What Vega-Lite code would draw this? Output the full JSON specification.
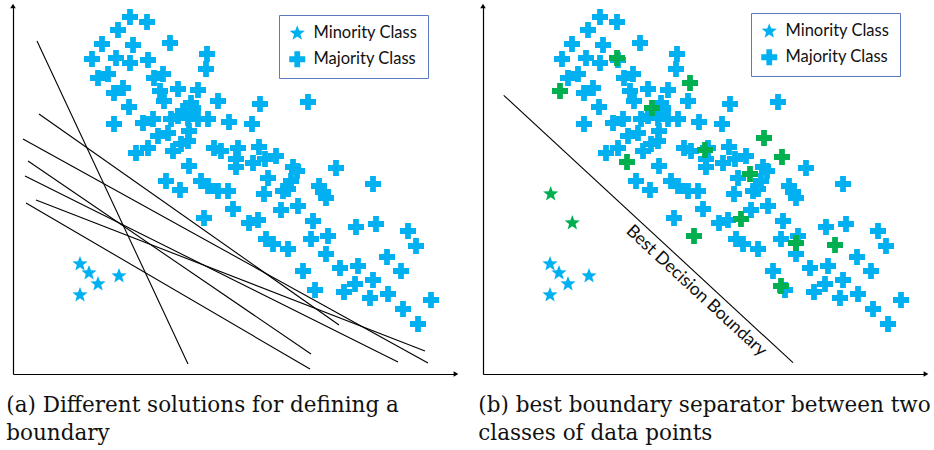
{
  "$schema": "https://vega.github.io/schema/vega-lite/v6.json",
  "background": "white",
  "padding": {"left": 6, "top": 3, "right": 0, "bottom": 0},
  "bounds": "flush",
  "spacing": 27,
  "config": {
    "view": {"stroke": null},
    "axis": {"domainColor": "black", "domainWidth": 1.2, "ticks": false, "labels": false, "grid": false, "title": null, "minExtent": 0, "maxExtent": 0},
    "title": {"font": "DejaVu Serif", "fontSize": 21.5, "fontWeight": "normal", "color": "#111", "orient": "bottom", "anchor": "start", "lineHeight": 28, "offset": 18}
  },
  "resolve": {"scale": {"shape": "independent", "color": "independent"}, "legend": {"shape": "independent"}},
  "datasets": {
    "pts": [
      {"x": 79, "y": 263, "class": "Minority Class"},
      {"x": 88, "y": 272, "class": "Minority Class"},
      {"x": 97, "y": 283, "class": "Minority Class"},
      {"x": 118, "y": 275, "class": "Minority Class"},
      {"x": 79, "y": 294, "class": "Minority Class"},
      {"x": 129, "y": 16, "class": "Majority Class"},
      {"x": 146, "y": 21, "class": "Majority Class"},
      {"x": 117, "y": 29, "class": "Majority Class"},
      {"x": 101, "y": 43, "class": "Majority Class"},
      {"x": 132, "y": 44, "class": "Majority Class"},
      {"x": 169, "y": 42, "class": "Majority Class"},
      {"x": 206, "y": 53, "class": "Majority Class"},
      {"x": 205, "y": 68, "class": "Majority Class"},
      {"x": 91, "y": 58, "class": "Majority Class"},
      {"x": 115, "y": 57, "class": "Majority Class"},
      {"x": 129, "y": 62, "class": "Majority Class"},
      {"x": 147, "y": 59, "class": "Majority Class"},
      {"x": 97, "y": 77, "class": "Majority Class"},
      {"x": 107, "y": 73, "class": "Majority Class"},
      {"x": 153, "y": 77, "class": "Majority Class"},
      {"x": 162, "y": 73, "class": "Majority Class"},
      {"x": 113, "y": 92, "class": "Majority Class"},
      {"x": 122, "y": 87, "class": "Majority Class"},
      {"x": 128, "y": 106, "class": "Majority Class"},
      {"x": 159, "y": 90, "class": "Majority Class"},
      {"x": 163, "y": 100, "class": "Majority Class"},
      {"x": 177, "y": 88, "class": "Majority Class"},
      {"x": 197, "y": 89, "class": "Majority Class"},
      {"x": 190, "y": 102, "class": "Majority Class"},
      {"x": 217, "y": 100, "class": "Majority Class"},
      {"x": 259, "y": 103, "class": "Majority Class"},
      {"x": 307, "y": 101, "class": "Majority Class"},
      {"x": 113, "y": 123, "class": "Majority Class"},
      {"x": 142, "y": 122, "class": "Majority Class"},
      {"x": 152, "y": 118, "class": "Majority Class"},
      {"x": 177, "y": 115, "class": "Majority Class"},
      {"x": 187, "y": 117, "class": "Majority Class"},
      {"x": 197, "y": 118, "class": "Majority Class"},
      {"x": 207, "y": 118, "class": "Majority Class"},
      {"x": 182, "y": 110, "class": "Majority Class"},
      {"x": 192, "y": 107, "class": "Majority Class"},
      {"x": 170, "y": 118, "class": "Majority Class"},
      {"x": 228, "y": 121, "class": "Majority Class"},
      {"x": 251, "y": 123, "class": "Majority Class"},
      {"x": 188, "y": 130, "class": "Majority Class"},
      {"x": 157, "y": 135, "class": "Majority Class"},
      {"x": 167, "y": 132, "class": "Majority Class"},
      {"x": 187, "y": 140, "class": "Majority Class"},
      {"x": 180, "y": 143, "class": "Majority Class"},
      {"x": 135, "y": 152, "class": "Majority Class"},
      {"x": 147, "y": 147, "class": "Majority Class"},
      {"x": 172, "y": 150, "class": "Majority Class"},
      {"x": 213, "y": 147, "class": "Majority Class"},
      {"x": 220, "y": 150, "class": "Majority Class"},
      {"x": 237, "y": 147, "class": "Majority Class"},
      {"x": 235, "y": 158, "class": "Majority Class"},
      {"x": 235, "y": 166, "class": "Majority Class"},
      {"x": 258, "y": 146, "class": "Majority Class"},
      {"x": 252, "y": 162, "class": "Majority Class"},
      {"x": 264, "y": 158, "class": "Majority Class"},
      {"x": 275, "y": 155, "class": "Majority Class"},
      {"x": 188, "y": 165, "class": "Majority Class"},
      {"x": 165, "y": 180, "class": "Majority Class"},
      {"x": 179, "y": 189, "class": "Majority Class"},
      {"x": 200, "y": 180, "class": "Majority Class"},
      {"x": 207, "y": 185, "class": "Majority Class"},
      {"x": 217, "y": 190, "class": "Majority Class"},
      {"x": 227, "y": 190, "class": "Majority Class"},
      {"x": 232, "y": 208, "class": "Majority Class"},
      {"x": 203, "y": 217, "class": "Majority Class"},
      {"x": 292, "y": 166, "class": "Majority Class"},
      {"x": 296, "y": 170, "class": "Majority Class"},
      {"x": 290, "y": 180, "class": "Majority Class"},
      {"x": 287, "y": 188, "class": "Majority Class"},
      {"x": 335, "y": 167, "class": "Majority Class"},
      {"x": 267, "y": 177, "class": "Majority Class"},
      {"x": 263, "y": 193, "class": "Majority Class"},
      {"x": 282, "y": 190, "class": "Majority Class"},
      {"x": 318, "y": 185, "class": "Majority Class"},
      {"x": 322, "y": 191, "class": "Majority Class"},
      {"x": 325, "y": 197, "class": "Majority Class"},
      {"x": 372, "y": 183, "class": "Majority Class"},
      {"x": 280, "y": 209, "class": "Majority Class"},
      {"x": 297, "y": 205, "class": "Majority Class"},
      {"x": 248, "y": 222, "class": "Majority Class"},
      {"x": 257, "y": 219, "class": "Majority Class"},
      {"x": 312, "y": 220, "class": "Majority Class"},
      {"x": 265, "y": 238, "class": "Majority Class"},
      {"x": 272, "y": 243, "class": "Majority Class"},
      {"x": 287, "y": 248, "class": "Majority Class"},
      {"x": 310, "y": 238, "class": "Majority Class"},
      {"x": 327, "y": 235, "class": "Majority Class"},
      {"x": 325, "y": 253, "class": "Majority Class"},
      {"x": 302, "y": 270, "class": "Majority Class"},
      {"x": 314, "y": 289, "class": "Majority Class"},
      {"x": 339, "y": 267, "class": "Majority Class"},
      {"x": 357, "y": 265, "class": "Majority Class"},
      {"x": 355, "y": 226, "class": "Majority Class"},
      {"x": 375, "y": 223, "class": "Majority Class"},
      {"x": 407, "y": 230, "class": "Majority Class"},
      {"x": 415, "y": 245, "class": "Majority Class"},
      {"x": 386, "y": 256, "class": "Majority Class"},
      {"x": 400, "y": 270, "class": "Majority Class"},
      {"x": 354, "y": 283, "class": "Majority Class"},
      {"x": 372, "y": 279, "class": "Majority Class"},
      {"x": 343, "y": 291, "class": "Majority Class"},
      {"x": 369, "y": 297, "class": "Majority Class"},
      {"x": 387, "y": 293, "class": "Majority Class"},
      {"x": 430, "y": 299, "class": "Majority Class"},
      {"x": 402, "y": 308, "class": "Majority Class"},
      {"x": 417, "y": 323, "class": "Majority Class"}
    ],
    "green": [
      {"x": 79.7, "y": 193, "class": "Minority Class"},
      {"x": 101.3, "y": 222, "class": "Minority Class"},
      {"x": 146, "y": 57, "class": "Majority Class"},
      {"x": 89, "y": 90, "class": "Majority Class"},
      {"x": 219, "y": 82, "class": "Majority Class"},
      {"x": 181, "y": 107, "class": "Majority Class"},
      {"x": 293, "y": 137, "class": "Majority Class"},
      {"x": 234, "y": 149, "class": "Majority Class"},
      {"x": 156, "y": 161, "class": "Majority Class"},
      {"x": 311, "y": 156, "class": "Majority Class"},
      {"x": 279, "y": 173, "class": "Majority Class"},
      {"x": 270, "y": 218, "class": "Majority Class"},
      {"x": 223, "y": 235, "class": "Majority Class"},
      {"x": 325, "y": 242, "class": "Majority Class"},
      {"x": 364, "y": 244, "class": "Majority Class"},
      {"x": 310, "y": 285, "class": "Majority Class"}
    ],
    "lines": [
      {"id": 1, "x": 36, "y": 40}, {"id": 1, "x": 187, "y": 363},
      {"id": 2, "x": 38, "y": 113}, {"id": 2, "x": 338, "y": 324},
      {"id": 3, "x": 22, "y": 138}, {"id": 3, "x": 427, "y": 362},
      {"id": 4, "x": 27, "y": 160}, {"id": 4, "x": 310, "y": 353},
      {"id": 5, "x": 24, "y": 175}, {"id": 5, "x": 397, "y": 361},
      {"id": 6, "x": 25, "y": 202}, {"id": 6, "x": 309, "y": 368},
      {"id": 7, "x": 35, "y": 199}, {"id": 7, "x": 424, "y": 350}
    ],
    "best": [
      {"x": 32.7, "y": 94.3}, {"x": 322, "y": 361.7}
    ]
  },
  "hconcat": [
    {
      "width": 443,
      "height": 368,
      "title": {"text": ["(a) Different solutions for defining a", "boundary"], "dx": -4},
      "encoding": {
        "x": {"field": "x", "type": "quantitative", "scale": {"domain": [12, 455], "nice": false, "zero": false}, "axis": {"title": null}},
        "y": {"field": "y", "type": "quantitative", "scale": {"domain": [373, 5], "nice": false, "zero": false}, "axis": {"title": null}}
      },
      "layer": [
        {
          "data": {"name": "pts"},
          "mark": {"type": "point", "filled": true, "opacity": 1, "color": "#00B0F0", "strokeWidth": 0, "size": 256},
          "encoding": {
            "shape": {
              "field": "class", "type": "nominal",
              "scale": {"domain": ["Minority Class", "Majority Class"], "range": ["M0,-1L0.247,-0.34L0.951,-0.309L0.399,0.13L0.588,0.809L0,0.42L-0.588,0.809L-0.399,0.13L-0.951,-0.309L-0.247,-0.34Z", "M-0.36,-1H0.36V-0.36H1V0.36H0.36V1H-0.36V0.36H-1V-0.36H-0.36Z"]},
              "legend": {"title": null, "orient": "none", "legendX": 266, "legendY": 9, "strokeColor": "#5B7BC0", "fillColor": "white", "padding": 10, "symbolSize": 256, "symbolFillColor": "#00B0F0", "symbolStrokeWidth": 0, "labelFont": "Lato", "labelFontSize": 16.5, "labelColor": "#111", "rowPadding": 9, "labelOffset": 8}
            }
          }
        },
        {
          "data": {"name": "lines"},
          "mark": {"type": "line", "color": "black", "strokeWidth": 1.1},
          "encoding": {"detail": {"field": "id", "type": "nominal"}}
        },
        {
          "data": {"values": [{"x": 455, "y": 373}]},
          "mark": {"type": "point", "shape": "triangle-right", "filled": true, "color": "black", "size": 30, "opacity": 1}
        },
        {
          "data": {"values": [{"x": 12, "y": 5}]},
          "mark": {"type": "point", "shape": "triangle-up", "filled": true, "color": "black", "size": 30, "opacity": 1}
        }
      ]
    },
    {
      "width": 443,
      "height": 368,
      "title": {"text": ["(b) best boundary separator between two", "classes of data points"], "dx": -2},
      "encoding": {
        "x": {"field": "x", "type": "quantitative", "scale": {"domain": [12, 455], "nice": false, "zero": false}, "axis": {"title": null}},
        "y": {"field": "y", "type": "quantitative", "scale": {"domain": [373, 5], "nice": false, "zero": false}, "axis": {"title": null}}
      },
      "layer": [
        {
          "data": {"name": "pts"},
          "mark": {"type": "point", "filled": true, "opacity": 1, "color": "#00B0F0", "strokeWidth": 0, "size": 256},
          "encoding": {
            "shape": {
              "field": "class", "type": "nominal",
              "scale": {"domain": ["Minority Class", "Majority Class"], "range": ["M0,-1L0.247,-0.34L0.951,-0.309L0.399,0.13L0.588,0.809L0,0.42L-0.588,0.809L-0.399,0.13L-0.951,-0.309L-0.247,-0.34Z", "M-0.36,-1H0.36V-0.36H1V0.36H0.36V1H-0.36V0.36H-1V-0.36H-0.36Z"]},
              "legend": {"title": null, "orient": "none", "legendX": 268, "legendY": 7, "strokeColor": "#5B7BC0", "fillColor": "white", "padding": 10, "symbolSize": 256, "symbolFillColor": "#00B050", "symbolStrokeWidth": 0, "labelFont": "Lato", "labelFontSize": 16.5, "labelColor": "#111", "rowPadding": 9, "labelOffset": 8}
            }
          }
        },
        {
          "data": {"name": "green"},
          "mark": {"type": "point", "filled": true, "opacity": 1, "color": "#00B050", "strokeWidth": 0, "size": 256},
          "encoding": {
            "shape": {"field": "class", "type": "nominal"}
          }
        },
        {
          "data": {"name": "best"},
          "mark": {"type": "line", "color": "black", "strokeWidth": 1.1},
          "encoding": {}
        },
        {
          "data": {"values": [{"x": 225.3, "y": 290, "label": "Best Decision Boundary"}]},
          "mark": {"type": "text", "angle": 42.7, "font": "Lato", "fontSize": 17.5, "color": "#111", "align": "center", "baseline": "middle"},
          "encoding": {"text": {"field": "label", "type": "nominal"}}
        },
        {
          "data": {"values": [{"x": 455, "y": 373}]},
          "mark": {"type": "point", "shape": "triangle-right", "filled": true, "color": "black", "size": 30, "opacity": 1}
        },
        {
          "data": {"values": [{"x": 12, "y": 5}]},
          "mark": {"type": "point", "shape": "triangle-up", "filled": true, "color": "black", "size": 30, "opacity": 1}
        }
      ]
    }
  ]
}
